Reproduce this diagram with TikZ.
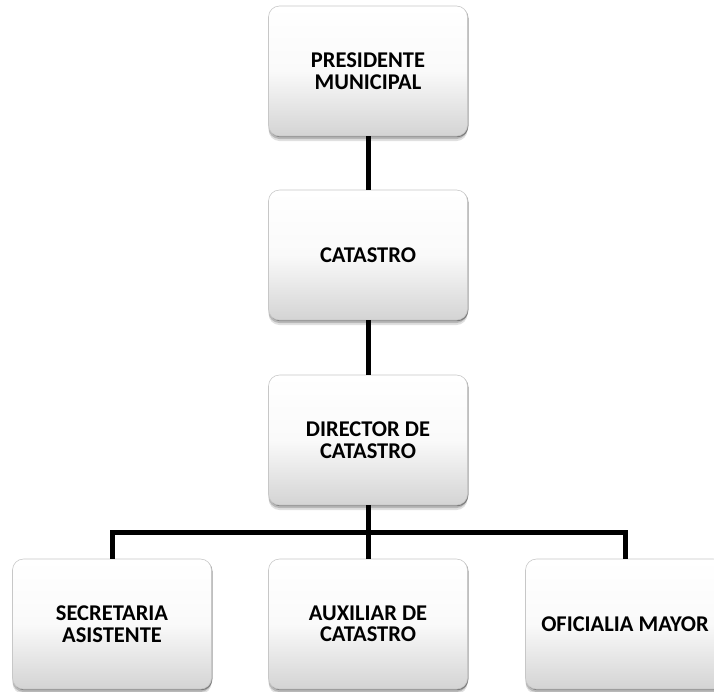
\documentclass[tikz,border=0pt]{standalone}
\usepackage{fontspec}
\setmainfont{Carlito}
\usetikzlibrary{shadows}
\begin{document}
\begin{tikzpicture}[x=1pt,y=-1pt,
  unit/.style={rounded corners=11pt, minimum width=199pt, minimum height=130pt,
    top color=white, bottom color=black!17, middle color=black!2,
    draw=black!22, line width=0.6pt, align=center, inner sep=0pt,
    font=\fontsize{22.5}{21.5}\selectfont\bfseries,
    drop shadow={shadow xshift=0pt, shadow yshift=-5pt, opacity=0.12, fill=black},
    drop shadow={shadow xshift=0pt, shadow yshift=-3pt, opacity=0.18, fill=black},
    drop shadow={shadow xshift=1pt, shadow yshift=-1.2pt, opacity=0.55, fill=black!70}},
  link/.style={line width=5pt, line join=miter}]
\useasboundingbox (0,0) rectangle (714,691);

% vertical chain
\node[unit] (pres) at (368,71)  {PRESIDENTE\\MUNICIPAL};
\node[unit] (cat)  at (368,255) {CATASTRO};
\node[unit] (dir)  at (368,440) {DIRECTOR DE\\CATASTRO};

% subordinate units
\node[unit] (sec) at (112,624) {SECRETARIA\\ASISTENTE};
\node[unit] (aux) at (368,624) {AUXILIAR DE\\CATASTRO};
\node[unit] (ofi) at (625,624) {OFICIALIA MAYOR};

\coordinate (bus) at (368,532);

% connectors
\draw[link] (pres.south) -- (cat.north);
\draw[link] (cat.south) -- (dir.north);
\draw[link] (dir.south) -- (aux.north);
\draw[link] (sec.north) |- (bus) -| (ofi.north);
\end{tikzpicture}
\end{document}
